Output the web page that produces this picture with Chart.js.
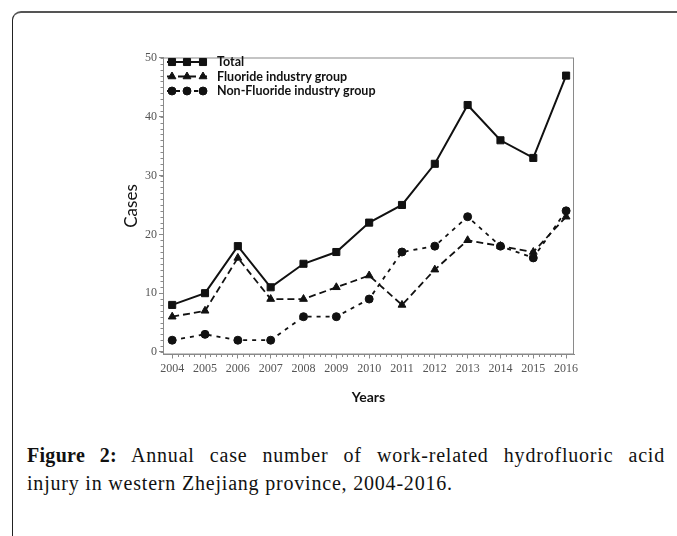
<!DOCTYPE html>
<html>
<head>
<meta charset="utf-8">
<script src="https://cdn.jsdelivr.net/npm/chart.js@4.4.0/dist/chart.umd.min.js"></script>
<style>
  html, body { margin: 0; padding: 0; background: #fff; }
  body { width: 677px; height: 536px; position: relative; overflow: hidden; }
  .frame {
    position: absolute; left: 12px; top: 11px; width: 700px; height: 600px;
    border-left: 1.5px solid #222; border-top: 2px solid #555; border-top-left-radius: 9px;
  }
  .chart-box { position: absolute; left: 100px; top: 40px; width: 500px; height: 380px; }
  .caption {
    position: absolute; left: 27px; top: 441px; width: 638px;
    font-family: "Liberation Serif", serif; font-size: 20px; line-height: 28px;
    letter-spacing: 0.8px; color: #111;
  }
  .caption .first { text-align: justify; text-align-last: justify; }
  .caption b { letter-spacing: 0.3px; }
</style>
</head>
<body>
<div class="frame"></div>
<div class="chart-box"><canvas id="chart" width="500" height="380"></canvas></div>
<div class="caption">
  <div class="first"><b>Figure 2:</b> Annual case number of work-related hydrofluoric acid</div>
  <div>injury in western Zhejiang province, 2004-2016.</div>
</div>
<script>
const years = [2004, 2005, 2006, 2007, 2008, 2009, 2010, 2011, 2012, 2013, 2014, 2015, 2016];
const total = [8, 10, 18, 11, 15, 17, 22, 25, 32, 42, 36, 33, 47];
const fluoride = [6, 7, 16, 9, 9, 11, 13, 8, 14, 19, 18, 17, 23];
const nonFluoride = [2, 3, 2, 2, 6, 6, 9, 17, 18, 23, 18, 16, 24];
const yTicks = [0, 10, 20, 30, 40, 50];

const toPoints = vals => vals.map((v, i) => ({ x: years[i], y: v }));

// plot frame, minor ticks and the legend inside the plot
const extras = {
  id: 'extras',
  afterDraw(chart) {
    const { ctx, chartArea: a, scales: { x, y } } = chart;
    ctx.save();
    ctx.strokeStyle = '#8a8a8a';
    ctx.lineWidth = 1;
    ctx.strokeRect(a.left + 0.5, a.top + 0.5, a.width - 1, a.height - 1);

    ctx.beginPath();
    for (let v = 0; v <= 50; v++) {
      const py = Math.round(y.getPixelForValue(v)) + 0.5;
      ctx.moveTo(a.left, py);
      ctx.lineTo(a.left - 2.5, py);
    }
    for (let yr = years[0]; yr < years[years.length - 1]; yr++) {
      for (let k = 1; k < 6; k++) {
        const px = Math.round(x.getPixelForValue(yr + k / 6)) + 0.5;
        ctx.moveTo(px, a.bottom);
        ctx.lineTo(px, a.bottom + 2.5);
      }
    }
    ctx.stroke();

    ctx.font = 'bold 12.5px Lato, sans-serif';
    ctx.textBaseline = 'middle';
    chart.data.datasets.forEach((ds, i) => {
      const ly = a.top + 4.5 + i * 14.5;
      ctx.strokeStyle = ds.borderColor;
      ctx.fillStyle = ds.borderColor;
      ctx.lineWidth = ds.borderWidth;
      ctx.setLineDash(ds.borderDash || []);
      ctx.beginPath();
      ctx.moveTo(a.left + 4, ly);
      ctx.lineTo(a.left + 44, ly);
      ctx.stroke();
      ctx.setLineDash([]);
      ctx.lineWidth = 1;
      [9, 24, 40].forEach(off => {
        Chart.helpers.drawPoint(ctx, { pointStyle: ds.pointStyle, radius: ds.pointRadius, borderWidth: 1 }, a.left + off, ly);
      });
      ctx.fillStyle = '#111';
      ctx.fillText(ds.label, a.left + 54, ly);
    });
    ctx.restore();
  }
};

new Chart(document.getElementById('chart'), {
  type: 'line',
  data: {
    datasets: [
      {
        label: 'Total', data: toPoints(total),
        borderColor: '#111', backgroundColor: '#111', borderWidth: 2,
        pointStyle: 'rect', pointRadius: 5, pointBorderWidth: 1
      },
      {
        label: 'Fluoride industry group', data: toPoints(fluoride),
        borderColor: '#111', backgroundColor: '#111', borderWidth: 1.8, borderDash: [7, 4],
        pointStyle: 'triangle', pointRadius: 4.5, pointBorderWidth: 1
      },
      {
        label: 'Non-Fluoride industry group', data: toPoints(nonFluoride),
        borderColor: '#111', backgroundColor: '#111', borderWidth: 1.8, borderDash: [4, 5],
        pointStyle: 'circle', pointRadius: 4, pointBorderWidth: 1
      }
    ]
  },
  plugins: [extras],
  options: {
    responsive: false,
    animation: false,
    devicePixelRatio: 1,
    layout: { padding: { top: 17.5, right: 26, bottom: 0, left: 0 } },
    plugins: { legend: { display: false }, tooltip: { enabled: false } },
    scales: {
      x: {
        type: 'linear', min: 2003.72, max: 2016.24,
        afterBuildTicks: s => { s.ticks = years.map(v => ({ value: v })); },
        afterFit: s => { s.height = 65.5; },
        ticks: {
          callback: v => String(v), autoSkip: false, maxRotation: 0,
          color: '#555', padding: 3,
          font: { family: 'Liberation Serif', size: 12 }
        },
        grid: { drawOnChartArea: false, tickLength: 4, color: '#888' },
        border: { color: '#888' },
        title: {
          display: true, text: 'Years', color: '#111',
          font: { family: 'Lato', weight: 'bold', size: 14 },
          padding: { top: 0, bottom: 14.6 }
        }
      },
      y: {
        min: -0.43, max: 50.08,
        afterBuildTicks: s => { s.ticks = yTicks.map(v => ({ value: v })); },
        afterFit: s => { s.width = 63; },
        ticks: {
          color: '#555', padding: 2,
          font: { family: 'Liberation Serif', size: 12 }
        },
        grid: { drawOnChartArea: false, tickLength: 4, color: '#888' },
        border: { color: '#888' },
        title: {
          display: true, text: 'Cases', color: '#111',
          font: { family: 'Lato', size: 17 },
          padding: { top: 21.8, bottom: 0 }
        }
      }
    }
  }
});
</script>
</body>
</html>
